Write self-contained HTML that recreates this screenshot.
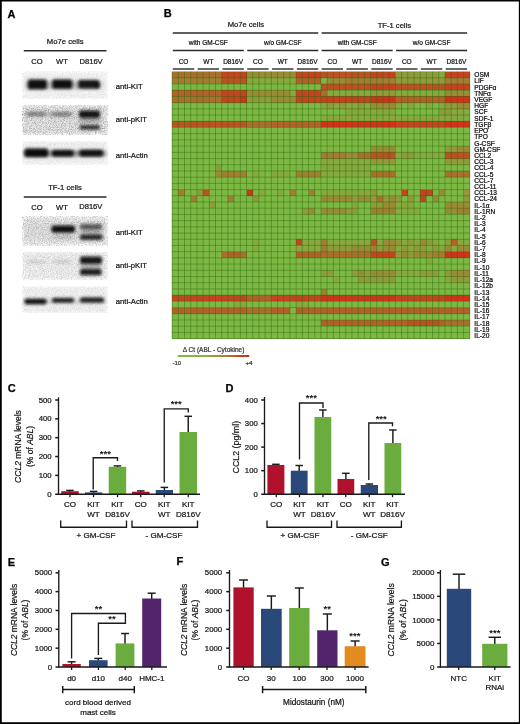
<!DOCTYPE html>
<html><head><meta charset="utf-8"><title>Figure</title>
<style>
html,body{margin:0;padding:0;background:#fff;}
body{width:520px;height:724px;overflow:hidden;font-family:"Liberation Sans", sans-serif;}
svg{display:block;opacity:0.999;}
</style></head><body>
<svg width="520" height="724" viewBox="0 0 520 724" font-family='"Liberation Sans", sans-serif'>
<rect x="0.00" y="0.00" width="520.00" height="724.00" fill="#ffffff" />
<defs>
<filter id="b1" x="-30%" y="-80%" width="160%" height="260%"><feGaussianBlur stdDeviation="1.7 1.35"/></filter>
<filter id="b2" x="-30%" y="-80%" width="160%" height="260%"><feGaussianBlur stdDeviation="2.4 1.8"/></filter>
<filter id="b3" x="-30%" y="-80%" width="160%" height="260%"><feGaussianBlur stdDeviation="1.4 1.0"/></filter>
<filter id="edge" x="-10%" y="-20%" width="120%" height="140%"><feGaussianBlur stdDeviation="1.0"/></filter>
<filter id="noise" x="0" y="0" width="100%" height="100%"><feTurbulence type="fractalNoise" baseFrequency="0.85" numOctaves="2" seed="3"/><feColorMatrix type="matrix" values="0 0 0 0 0  0 0 0 0 0  0 0 0 0 0  1.6 0 0 0 -0.62"/><feGaussianBlur stdDeviation="0.35"/></filter>
</defs>
<text x="7.40" y="17.50" font-size="11" text-anchor="start" font-weight="bold" fill="#000"  stroke="#000" stroke-width="0.25">A</text>
<text x="65.20" y="44.10" font-size="7.7" text-anchor="middle" font-weight="normal" fill="#141414" stroke="#141414" stroke-width="0.22" >Mo7e cells</text>
<line x1="23.80" y1="50.80" x2="106.50" y2="50.80" stroke="#2a2a2a" stroke-width="1.4" />
<text x="37.00" y="63.90" font-size="7.6" text-anchor="middle" font-weight="normal" fill="#141414" stroke="#141414" stroke-width="0.22" >CO</text>
<text x="62.00" y="63.90" font-size="7.6" text-anchor="middle" font-weight="normal" fill="#141414" stroke="#141414" stroke-width="0.22" >WT</text>
<text x="91.10" y="63.90" font-size="7.6" text-anchor="middle" font-weight="normal" fill="#141414" stroke="#141414" stroke-width="0.22" >D816V</text>
<g>
<rect x="23.50" y="72.60" width="83.00" height="25.40" fill="#000" fill-opacity="0.045" filter="url(#edge)"/>
<clipPath id="cp1"><rect x="21.7" y="70.8" width="86.6" height="29"/></clipPath>
<g clip-path="url(#cp1)">
<rect x="27.80" y="79.60" width="19.00" height="9.60" rx="2.0" fill="#0a0a0a" fill-opacity="0.97" filter="url(#b1)"/>
<rect x="52.20" y="79.40" width="20.00" height="9.40" rx="2.0" fill="#0a0a0a" fill-opacity="0.97" filter="url(#b1)"/>
<rect x="78.20" y="80.00" width="21.00" height="8.60" rx="2.0" fill="#0a0a0a" fill-opacity="0.93" filter="url(#b1)"/>
<rect x="96.00" y="82.00" width="3.50" height="6.50" rx="2.0" fill="#0a0a0a" fill-opacity="0.5" filter="url(#b3)"/>
<rect x="26.00" y="81.00" width="76.00" height="8.00" rx="2.0" fill="#0a0a0a" fill-opacity="0.22" filter="url(#b2)"/>
<rect x="22.7" y="71.8" width="84.6" height="27" filter="url(#noise)" opacity="0.13"/>
</g></g>
<g>
<rect x="23.50" y="106.30" width="83.00" height="27.40" fill="#000" fill-opacity="0.09" filter="url(#edge)"/>
<clipPath id="cp2"><rect x="21.7" y="104.5" width="86.6" height="31"/></clipPath>
<g clip-path="url(#cp2)">
<rect x="26.00" y="111.60" width="21.00" height="5.00" rx="2.0" fill="#0a0a0a" fill-opacity="0.4" filter="url(#b2)"/>
<rect x="51.00" y="111.80" width="21.00" height="5.00" rx="2.0" fill="#0a0a0a" fill-opacity="0.4" filter="url(#b2)"/>
<rect x="79.00" y="110.60" width="21.00" height="7.40" rx="2.0" fill="#0a0a0a" fill-opacity="0.95" filter="url(#b1)"/>
<rect x="79.50" y="125.00" width="20.50" height="4.60" rx="2.0" fill="#0a0a0a" fill-opacity="0.85" filter="url(#b1)"/>
<rect x="79.00" y="117.50" width="21.00" height="5.00" rx="2.0" fill="#0a0a0a" fill-opacity="0.25" filter="url(#b2)"/>
<rect x="22.7" y="105.5" width="84.6" height="29" filter="url(#noise)" opacity="0.42"/>
</g></g>
<g>
<rect x="23.50" y="142.00" width="83.00" height="21.60" fill="#000" fill-opacity="0.05" filter="url(#edge)"/>
<clipPath id="cp3"><rect x="21.7" y="140.2" width="86.6" height="25.2"/></clipPath>
<g clip-path="url(#cp3)">
<rect x="24.50" y="148.40" width="23.50" height="8.60" rx="2.0" fill="#0a0a0a" fill-opacity="0.97" filter="url(#b1)"/>
<rect x="52.00" y="150.00" width="21.50" height="6.60" rx="2.0" fill="#0a0a0a" fill-opacity="0.94" filter="url(#b1)"/>
<rect x="79.50" y="149.80" width="23.50" height="6.60" rx="2.0" fill="#0a0a0a" fill-opacity="0.94" filter="url(#b1)"/>
<rect x="24.00" y="150.50" width="82.00" height="6.00" rx="2.0" fill="#0a0a0a" fill-opacity="0.4" filter="url(#b2)"/>
<rect x="22.7" y="141.2" width="84.6" height="23.2" filter="url(#noise)" opacity="0.13"/>
</g></g>
<text x="115.80" y="88.60" font-size="7.7" text-anchor="start" font-weight="normal" fill="#141414" stroke="#141414" stroke-width="0.22" >anti-KIT</text>
<text x="115.80" y="121.80" font-size="7.7" text-anchor="start" font-weight="normal" fill="#141414" stroke="#141414" stroke-width="0.22" >anti-pKIT</text>
<text x="115.80" y="157.60" font-size="7.7" text-anchor="start" font-weight="normal" fill="#141414" stroke="#141414" stroke-width="0.22" >anti-Actin</text>
<text x="65.00" y="189.90" font-size="7.7" text-anchor="middle" font-weight="normal" fill="#141414" stroke="#141414" stroke-width="0.22" >TF-1 cells</text>
<line x1="23.80" y1="197.00" x2="106.50" y2="197.00" stroke="#2a2a2a" stroke-width="1.4" />
<text x="37.00" y="209.80" font-size="7.6" text-anchor="middle" font-weight="normal" fill="#141414" stroke="#141414" stroke-width="0.22" >CO</text>
<text x="62.00" y="210.30" font-size="7.6" text-anchor="middle" font-weight="normal" fill="#141414" stroke="#141414" stroke-width="0.22" >WT</text>
<text x="90.80" y="208.60" font-size="7.6" text-anchor="middle" font-weight="normal" fill="#141414" stroke="#141414" stroke-width="0.22" >D816V</text>
<g>
<rect x="23.50" y="217.60" width="83.00" height="26.80" fill="#000" fill-opacity="0.07" filter="url(#edge)"/>
<clipPath id="cp4"><rect x="21.7" y="215.8" width="86.6" height="30.4"/></clipPath>
<g clip-path="url(#cp4)">
<rect x="51.50" y="225.40" width="23.50" height="7.40" rx="2.0" fill="#0a0a0a" fill-opacity="0.98" filter="url(#b1)"/>
<rect x="80.00" y="224.20" width="22.00" height="5.00" rx="2.0" fill="#0a0a0a" fill-opacity="0.68" filter="url(#b1)"/>
<rect x="80.00" y="234.60" width="22.50" height="5.20" rx="2.0" fill="#0a0a0a" fill-opacity="0.9" filter="url(#b1)"/>
<rect x="81.00" y="229.50" width="20.00" height="4.00" rx="2.0" fill="#0a0a0a" fill-opacity="0.25" filter="url(#b2)"/>
<rect x="55.00" y="235.50" width="17.00" height="3.00" rx="1.5" fill="#0a0a0a" fill-opacity="0.16" filter="url(#b2)"/>
<rect x="25.00" y="222.00" width="80.00" height="18.00" rx="2.0" fill="#0a0a0a" fill-opacity="0.04" filter="url(#b2)"/>
<rect x="22.7" y="216.8" width="84.6" height="28.4" filter="url(#noise)" opacity="0.34"/>
</g></g>
<g>
<rect x="23.50" y="252.80" width="83.00" height="26.00" fill="#000" fill-opacity="0.05" filter="url(#edge)"/>
<clipPath id="cp5"><rect x="21.7" y="251" width="86.6" height="29.6"/></clipPath>
<g clip-path="url(#cp5)">
<rect x="27.00" y="259.80" width="19.00" height="4.00" rx="2.0" fill="#0a0a0a" fill-opacity="0.1" filter="url(#b2)"/>
<rect x="53.00" y="259.80" width="17.00" height="4.00" rx="2.0" fill="#0a0a0a" fill-opacity="0.12" filter="url(#b2)"/>
<rect x="80.00" y="256.60" width="22.00" height="7.40" rx="2.0" fill="#0a0a0a" fill-opacity="0.95" filter="url(#b1)"/>
<rect x="80.00" y="268.80" width="21.50" height="6.40" rx="2.0" fill="#0a0a0a" fill-opacity="0.93" filter="url(#b1)"/>
<rect x="80.00" y="263.50" width="21.00" height="5.00" rx="2.0" fill="#0a0a0a" fill-opacity="0.22" filter="url(#b2)"/>
<rect x="22.7" y="252" width="84.6" height="27.6" filter="url(#noise)" opacity="0.24"/>
</g></g>
<g>
<rect x="23.50" y="287.60" width="83.00" height="24.40" fill="#000" fill-opacity="0.05" filter="url(#edge)"/>
<clipPath id="cp6"><rect x="21.7" y="285.8" width="86.6" height="28"/></clipPath>
<g clip-path="url(#cp6)">
<rect x="24.50" y="298.80" width="22.00" height="5.40" rx="2.0" fill="#0a0a0a" fill-opacity="0.97" filter="url(#b1)"/>
<rect x="52.00" y="298.00" width="22.00" height="4.60" rx="2.0" fill="#0a0a0a" fill-opacity="0.95" filter="url(#b1)"/>
<rect x="80.00" y="297.60" width="24.00" height="4.80" rx="2.0" fill="#0a0a0a" fill-opacity="0.93" filter="url(#b1)"/>
<rect x="24.00" y="299.50" width="82.00" height="4.00" rx="2.0" fill="#0a0a0a" fill-opacity="0.12" filter="url(#b2)"/>
<rect x="22.7" y="286.8" width="84.6" height="26" filter="url(#noise)" opacity="0.15"/>
</g></g>
<text x="115.80" y="234.80" font-size="7.7" text-anchor="start" font-weight="normal" fill="#141414" stroke="#141414" stroke-width="0.22" >anti-KIT</text>
<text x="115.80" y="268.20" font-size="7.7" text-anchor="start" font-weight="normal" fill="#141414" stroke="#141414" stroke-width="0.22" >anti-pKIT</text>
<text x="115.80" y="304.20" font-size="7.7" text-anchor="start" font-weight="normal" fill="#141414" stroke="#141414" stroke-width="0.22" >anti-Actin</text>
<text x="163.70" y="16.60" font-size="11" text-anchor="start" font-weight="bold" fill="#000"  stroke="#000" stroke-width="0.25">B</text>
<text x="245.83" y="26.80" font-size="7.6" text-anchor="middle" font-weight="normal" fill="#141414" stroke="#141414" stroke-width="0.22" >Mo7e cells</text>
<text x="394.38" y="27.90" font-size="7.6" text-anchor="middle" font-weight="normal" fill="#141414" stroke="#141414" stroke-width="0.22" >TF-1 cells</text>
<line x1="172.80" y1="33.00" x2="318.25" y2="33.00" stroke="#2a2a2a" stroke-width="1.4" />
<line x1="321.65" y1="33.00" x2="467.10" y2="33.00" stroke="#2a2a2a" stroke-width="1.4" />
<text x="208.31" y="45.00" font-size="6.5" text-anchor="middle" font-weight="normal" fill="#141414" stroke="#141414" stroke-width="0.22" >with GM-CSF</text>
<line x1="172.80" y1="50.50" x2="243.83" y2="50.50" stroke="#2a2a2a" stroke-width="1.4" />
<text x="282.74" y="45.00" font-size="6.5" text-anchor="middle" font-weight="normal" fill="#141414" stroke="#141414" stroke-width="0.22" >w/o GM-CSF</text>
<line x1="247.22" y1="50.50" x2="318.25" y2="50.50" stroke="#2a2a2a" stroke-width="1.4" />
<text x="357.16" y="45.00" font-size="6.5" text-anchor="middle" font-weight="normal" fill="#141414" stroke="#141414" stroke-width="0.22" >with GM-CSF</text>
<line x1="321.65" y1="50.50" x2="392.68" y2="50.50" stroke="#2a2a2a" stroke-width="1.4" />
<text x="431.59" y="45.00" font-size="6.5" text-anchor="middle" font-weight="normal" fill="#141414" stroke="#141414" stroke-width="0.22" >w/o GM-CSF</text>
<line x1="396.07" y1="50.50" x2="467.10" y2="50.50" stroke="#2a2a2a" stroke-width="1.4" />
<text x="183.50" y="64.00" font-size="6.5" text-anchor="middle" font-weight="normal" fill="#141414" stroke="#141414" stroke-width="0.22" >CO</text>
<line x1="172.80" y1="69.00" x2="194.21" y2="69.00" stroke="#2a2a2a" stroke-width="1.4" />
<text x="208.31" y="64.00" font-size="6.5" text-anchor="middle" font-weight="normal" fill="#141414" stroke="#141414" stroke-width="0.22" >WT</text>
<line x1="197.61" y1="69.00" x2="219.02" y2="69.00" stroke="#2a2a2a" stroke-width="1.4" />
<text x="233.12" y="64.00" font-size="6.5" text-anchor="middle" font-weight="normal" fill="#141414" stroke="#141414" stroke-width="0.22" >D816V</text>
<line x1="222.42" y1="69.00" x2="243.83" y2="69.00" stroke="#2a2a2a" stroke-width="1.4" />
<text x="257.93" y="64.00" font-size="6.5" text-anchor="middle" font-weight="normal" fill="#141414" stroke="#141414" stroke-width="0.22" >CO</text>
<line x1="247.22" y1="69.00" x2="268.63" y2="69.00" stroke="#2a2a2a" stroke-width="1.4" />
<text x="282.74" y="64.00" font-size="6.5" text-anchor="middle" font-weight="normal" fill="#141414" stroke="#141414" stroke-width="0.22" >WT</text>
<line x1="272.03" y1="69.00" x2="293.44" y2="69.00" stroke="#2a2a2a" stroke-width="1.4" />
<text x="307.55" y="64.00" font-size="6.5" text-anchor="middle" font-weight="normal" fill="#141414" stroke="#141414" stroke-width="0.22" >D816V</text>
<line x1="296.84" y1="69.00" x2="318.25" y2="69.00" stroke="#2a2a2a" stroke-width="1.4" />
<text x="332.35" y="64.00" font-size="6.5" text-anchor="middle" font-weight="normal" fill="#141414" stroke="#141414" stroke-width="0.22" >CO</text>
<line x1="321.65" y1="69.00" x2="343.06" y2="69.00" stroke="#2a2a2a" stroke-width="1.4" />
<text x="357.16" y="64.00" font-size="6.5" text-anchor="middle" font-weight="normal" fill="#141414" stroke="#141414" stroke-width="0.22" >WT</text>
<line x1="346.46" y1="69.00" x2="367.87" y2="69.00" stroke="#2a2a2a" stroke-width="1.4" />
<text x="381.97" y="64.00" font-size="6.5" text-anchor="middle" font-weight="normal" fill="#141414" stroke="#141414" stroke-width="0.22" >D816V</text>
<line x1="371.27" y1="69.00" x2="392.68" y2="69.00" stroke="#2a2a2a" stroke-width="1.4" />
<text x="406.78" y="64.00" font-size="6.5" text-anchor="middle" font-weight="normal" fill="#141414" stroke="#141414" stroke-width="0.22" >CO</text>
<line x1="396.07" y1="69.00" x2="417.48" y2="69.00" stroke="#2a2a2a" stroke-width="1.4" />
<text x="431.59" y="64.00" font-size="6.5" text-anchor="middle" font-weight="normal" fill="#141414" stroke="#141414" stroke-width="0.22" >WT</text>
<line x1="420.88" y1="69.00" x2="442.29" y2="69.00" stroke="#2a2a2a" stroke-width="1.4" />
<text x="456.40" y="64.00" font-size="6.5" text-anchor="middle" font-weight="normal" fill="#141414" stroke="#141414" stroke-width="0.22" >D816V</text>
<line x1="445.69" y1="69.00" x2="467.10" y2="69.00" stroke="#2a2a2a" stroke-width="1.4" />
<g shape-rendering="crispEdges">
<rect x="172.10" y="71.60" width="297.70" height="267.00" fill="#7eb844" />
<rect x="172.10" y="71.60" width="49.62" height="6.21" fill="#aa6f2d" />
<rect x="221.72" y="71.60" width="24.81" height="6.21" fill="#c54320" />
<rect x="246.53" y="71.60" width="49.62" height="6.21" fill="#998c36" />
<rect x="296.14" y="71.60" width="24.81" height="6.21" fill="#c54320" />
<rect x="320.95" y="71.60" width="49.62" height="6.21" fill="#bc5124" />
<rect x="370.57" y="71.60" width="24.81" height="6.21" fill="#c54320" />
<rect x="395.38" y="71.60" width="43.41" height="6.21" fill="#909b3b" />
<rect x="438.79" y="71.60" width="6.20" height="6.21" fill="#87a93f" />
<rect x="444.99" y="71.60" width="24.81" height="6.21" fill="#c54320" />
<rect x="172.10" y="77.81" width="49.62" height="6.21" fill="#a27d32" />
<rect x="221.72" y="77.81" width="24.81" height="6.21" fill="#bc5124" />
<rect x="246.53" y="77.81" width="49.62" height="6.21" fill="#87a93f" />
<rect x="296.14" y="77.81" width="24.81" height="6.21" fill="#b36029" />
<rect x="327.15" y="77.81" width="18.61" height="6.21" fill="#998c36" />
<rect x="345.76" y="77.81" width="49.62" height="6.21" fill="#a27d32" />
<rect x="395.38" y="77.81" width="49.62" height="6.21" fill="#909b3b" />
<rect x="444.99" y="77.81" width="24.81" height="6.21" fill="#a27d32" />
<rect x="320.95" y="84.02" width="49.62" height="6.21" fill="#bc5124" />
<rect x="370.57" y="84.02" width="24.81" height="6.21" fill="#c54320" />
<rect x="395.38" y="84.02" width="49.62" height="6.21" fill="#bc5124" />
<rect x="444.99" y="84.02" width="24.81" height="6.21" fill="#c54320" />
<rect x="172.10" y="90.23" width="49.62" height="6.21" fill="#b36029" />
<rect x="221.72" y="90.23" width="24.81" height="6.21" fill="#c54320" />
<rect x="246.53" y="90.23" width="43.41" height="6.21" fill="#998c36" />
<rect x="289.94" y="90.23" width="6.20" height="6.21" fill="#87a93f" />
<rect x="296.14" y="90.23" width="24.81" height="6.21" fill="#c54320" />
<rect x="320.95" y="90.23" width="6.20" height="6.21" fill="#aa6f2d" />
<rect x="327.15" y="90.23" width="43.41" height="6.21" fill="#87a93f" />
<rect x="370.57" y="90.23" width="24.81" height="6.21" fill="#909b3b" />
<rect x="395.38" y="90.23" width="49.62" height="6.21" fill="#87a93f" />
<rect x="444.99" y="90.23" width="24.81" height="6.21" fill="#998c36" />
<rect x="172.10" y="96.44" width="49.62" height="6.21" fill="#aa6f2d" />
<rect x="221.72" y="96.44" width="18.61" height="6.21" fill="#c54320" />
<rect x="240.32" y="96.44" width="6.20" height="6.21" fill="#ce341b" />
<rect x="246.53" y="96.44" width="24.81" height="6.21" fill="#909b3b" />
<rect x="271.33" y="96.44" width="24.81" height="6.21" fill="#998c36" />
<rect x="296.14" y="96.44" width="74.43" height="6.21" fill="#c54320" />
<rect x="370.57" y="96.44" width="24.81" height="6.21" fill="#ce341b" />
<rect x="395.38" y="96.44" width="49.62" height="6.21" fill="#b36029" />
<rect x="444.99" y="96.44" width="24.81" height="6.21" fill="#ce341b" />
<rect x="320.95" y="102.65" width="6.20" height="6.21" fill="#87a93f" />
<rect x="327.15" y="102.65" width="6.20" height="6.21" fill="#909b3b" />
<rect x="333.35" y="102.65" width="6.20" height="6.21" fill="#87a93f" />
<rect x="339.56" y="102.65" width="6.20" height="6.21" fill="#909b3b" />
<rect x="345.76" y="102.65" width="12.40" height="6.21" fill="#87a93f" />
<rect x="358.16" y="102.65" width="6.20" height="6.21" fill="#909b3b" />
<rect x="364.36" y="102.65" width="6.20" height="6.21" fill="#87a93f" />
<rect x="370.57" y="102.65" width="24.81" height="6.21" fill="#998c36" />
<rect x="395.38" y="102.65" width="6.20" height="6.21" fill="#87a93f" />
<rect x="407.78" y="102.65" width="6.20" height="6.21" fill="#87a93f" />
<rect x="426.39" y="102.65" width="6.20" height="6.21" fill="#87a93f" />
<rect x="438.79" y="102.65" width="6.20" height="6.21" fill="#87a93f" />
<rect x="444.99" y="102.65" width="12.40" height="6.21" fill="#909b3b" />
<rect x="457.40" y="102.65" width="12.40" height="6.21" fill="#998c36" />
<rect x="345.76" y="108.86" width="49.62" height="6.21" fill="#87a93f" />
<rect x="438.79" y="108.86" width="12.40" height="6.21" fill="#909b3b" />
<rect x="451.19" y="108.86" width="18.61" height="6.21" fill="#87a93f" />
<rect x="320.95" y="115.07" width="148.85" height="6.21" fill="#87a93f" />
<rect x="172.10" y="121.27" width="74.43" height="6.21" fill="#bc5124" />
<rect x="246.53" y="121.27" width="24.81" height="6.21" fill="#aa6f2d" />
<rect x="271.33" y="121.27" width="49.62" height="6.21" fill="#b36029" />
<rect x="320.95" y="121.27" width="74.43" height="6.21" fill="#ce341b" />
<rect x="395.38" y="121.27" width="49.62" height="6.21" fill="#c54320" />
<rect x="444.99" y="121.27" width="24.81" height="6.21" fill="#ce341b" />
<rect x="370.57" y="146.11" width="24.81" height="6.21" fill="#998c36" />
<rect x="444.99" y="146.11" width="12.40" height="6.21" fill="#909b3b" />
<rect x="457.40" y="146.11" width="12.40" height="6.21" fill="#998c36" />
<rect x="320.95" y="152.32" width="24.81" height="6.21" fill="#a27d32" />
<rect x="345.76" y="152.32" width="12.40" height="6.21" fill="#998c36" />
<rect x="358.16" y="152.32" width="12.40" height="6.21" fill="#aa6f2d" />
<rect x="370.57" y="152.32" width="24.81" height="6.21" fill="#bc5124" />
<rect x="395.38" y="152.32" width="6.20" height="6.21" fill="#87a93f" />
<rect x="401.58" y="152.32" width="12.40" height="6.21" fill="#909b3b" />
<rect x="413.98" y="152.32" width="31.01" height="6.21" fill="#87a93f" />
<rect x="444.99" y="152.32" width="24.81" height="6.21" fill="#bc5124" />
<rect x="320.95" y="158.53" width="49.62" height="6.21" fill="#87a93f" />
<rect x="370.57" y="158.53" width="24.81" height="6.21" fill="#909b3b" />
<rect x="444.99" y="158.53" width="24.81" height="6.21" fill="#909b3b" />
<rect x="215.51" y="164.74" width="6.20" height="6.21" fill="#909b3b" />
<rect x="320.95" y="164.74" width="49.62" height="6.21" fill="#87a93f" />
<rect x="215.51" y="170.95" width="6.20" height="6.21" fill="#998c36" />
<rect x="221.72" y="170.95" width="24.81" height="6.21" fill="#a27d32" />
<rect x="252.73" y="170.95" width="6.20" height="6.21" fill="#87a93f" />
<rect x="271.33" y="170.95" width="18.61" height="6.21" fill="#87a93f" />
<rect x="296.14" y="170.95" width="24.81" height="6.21" fill="#a27d32" />
<rect x="320.95" y="170.95" width="49.62" height="6.21" fill="#87a93f" />
<rect x="370.57" y="170.95" width="24.81" height="6.21" fill="#aa6f2d" />
<rect x="444.99" y="170.95" width="24.81" height="6.21" fill="#aa6f2d" />
<rect x="178.30" y="189.58" width="6.20" height="6.21" fill="#a27d32" />
<rect x="196.91" y="189.58" width="6.20" height="6.21" fill="#909b3b" />
<rect x="203.11" y="189.58" width="6.20" height="6.21" fill="#bc5124" />
<rect x="246.53" y="189.58" width="6.20" height="6.21" fill="#ce341b" />
<rect x="258.93" y="189.58" width="6.20" height="6.21" fill="#87a93f" />
<rect x="277.54" y="189.58" width="6.20" height="6.21" fill="#87a93f" />
<rect x="289.94" y="189.58" width="6.20" height="6.21" fill="#a27d32" />
<rect x="308.55" y="189.58" width="6.20" height="6.21" fill="#a27d32" />
<rect x="320.95" y="189.58" width="49.62" height="6.21" fill="#87a93f" />
<rect x="370.57" y="189.58" width="6.20" height="6.21" fill="#909b3b" />
<rect x="401.58" y="189.58" width="6.20" height="6.21" fill="#c54320" />
<rect x="420.18" y="189.58" width="12.40" height="6.21" fill="#c54320" />
<rect x="438.79" y="189.58" width="6.20" height="6.21" fill="#998c36" />
<rect x="463.60" y="189.58" width="6.20" height="6.21" fill="#909b3b" />
<rect x="190.71" y="195.79" width="6.20" height="6.21" fill="#a27d32" />
<rect x="227.92" y="195.79" width="6.20" height="6.21" fill="#a27d32" />
<rect x="252.73" y="195.79" width="6.20" height="6.21" fill="#909b3b" />
<rect x="320.95" y="195.79" width="31.01" height="6.21" fill="#998c36" />
<rect x="351.96" y="195.79" width="6.20" height="6.21" fill="#909b3b" />
<rect x="358.16" y="195.79" width="12.40" height="6.21" fill="#998c36" />
<rect x="370.57" y="195.79" width="6.20" height="6.21" fill="#909b3b" />
<rect x="376.77" y="195.79" width="6.20" height="6.21" fill="#aa6f2d" />
<rect x="382.97" y="195.79" width="6.20" height="6.21" fill="#909b3b" />
<rect x="389.17" y="195.79" width="6.20" height="6.21" fill="#998c36" />
<rect x="395.38" y="195.79" width="6.20" height="6.21" fill="#909b3b" />
<rect x="407.78" y="195.79" width="6.20" height="6.21" fill="#909b3b" />
<rect x="420.18" y="195.79" width="6.20" height="6.21" fill="#c54320" />
<rect x="432.59" y="195.79" width="6.20" height="6.21" fill="#998c36" />
<rect x="463.60" y="195.79" width="6.20" height="6.21" fill="#909b3b" />
<rect x="209.31" y="202.00" width="6.20" height="6.21" fill="#909b3b" />
<rect x="351.96" y="202.00" width="6.20" height="6.21" fill="#87a93f" />
<rect x="370.57" y="202.00" width="12.40" height="6.21" fill="#909b3b" />
<rect x="382.97" y="202.00" width="12.40" height="6.21" fill="#998c36" />
<rect x="395.38" y="202.00" width="18.61" height="6.21" fill="#87a93f" />
<rect x="444.99" y="202.00" width="24.81" height="6.21" fill="#998c36" />
<rect x="302.34" y="208.20" width="6.20" height="6.21" fill="#909b3b" />
<rect x="308.55" y="208.20" width="6.20" height="6.21" fill="#998c36" />
<rect x="320.95" y="208.20" width="24.81" height="6.21" fill="#998c36" />
<rect x="345.76" y="208.20" width="12.40" height="6.21" fill="#909b3b" />
<rect x="370.57" y="208.20" width="24.81" height="6.21" fill="#a27d32" />
<rect x="395.38" y="208.20" width="24.81" height="6.21" fill="#87a93f" />
<rect x="444.99" y="208.20" width="12.40" height="6.21" fill="#998c36" />
<rect x="457.40" y="208.20" width="12.40" height="6.21" fill="#a27d32" />
<rect x="252.73" y="239.25" width="6.20" height="6.21" fill="#87a93f" />
<rect x="296.14" y="239.25" width="6.20" height="6.21" fill="#c54320" />
<rect x="302.34" y="239.25" width="18.61" height="6.21" fill="#87a93f" />
<rect x="320.95" y="239.25" width="6.20" height="6.21" fill="#a27d32" />
<rect x="327.15" y="239.25" width="43.41" height="6.21" fill="#87a93f" />
<rect x="370.57" y="239.25" width="6.20" height="6.21" fill="#bc5124" />
<rect x="376.77" y="239.25" width="6.20" height="6.21" fill="#87a93f" />
<rect x="382.97" y="239.25" width="12.40" height="6.21" fill="#998c36" />
<rect x="395.38" y="239.25" width="6.20" height="6.21" fill="#909b3b" />
<rect x="401.58" y="239.25" width="6.20" height="6.21" fill="#87a93f" />
<rect x="407.78" y="239.25" width="6.20" height="6.21" fill="#909b3b" />
<rect x="413.98" y="239.25" width="6.20" height="6.21" fill="#87a93f" />
<rect x="420.18" y="239.25" width="6.20" height="6.21" fill="#998c36" />
<rect x="426.39" y="239.25" width="6.20" height="6.21" fill="#909b3b" />
<rect x="432.59" y="239.25" width="6.20" height="6.21" fill="#87a93f" />
<rect x="444.99" y="239.25" width="6.20" height="6.21" fill="#909b3b" />
<rect x="451.19" y="239.25" width="6.20" height="6.21" fill="#b36029" />
<rect x="457.40" y="239.25" width="12.40" height="6.21" fill="#87a93f" />
<rect x="252.73" y="245.46" width="6.20" height="6.21" fill="#87a93f" />
<rect x="296.14" y="245.46" width="24.81" height="6.21" fill="#87a93f" />
<rect x="320.95" y="245.46" width="6.20" height="6.21" fill="#a27d32" />
<rect x="327.15" y="245.46" width="24.81" height="6.21" fill="#909b3b" />
<rect x="351.96" y="245.46" width="18.61" height="6.21" fill="#998c36" />
<rect x="370.57" y="245.46" width="6.20" height="6.21" fill="#a27d32" />
<rect x="376.77" y="245.46" width="6.20" height="6.21" fill="#909b3b" />
<rect x="382.97" y="245.46" width="12.40" height="6.21" fill="#998c36" />
<rect x="395.38" y="245.46" width="6.20" height="6.21" fill="#87a93f" />
<rect x="401.58" y="245.46" width="6.20" height="6.21" fill="#909b3b" />
<rect x="407.78" y="245.46" width="6.20" height="6.21" fill="#87a93f" />
<rect x="413.98" y="245.46" width="12.40" height="6.21" fill="#909b3b" />
<rect x="426.39" y="245.46" width="6.20" height="6.21" fill="#87a93f" />
<rect x="432.59" y="245.46" width="6.20" height="6.21" fill="#909b3b" />
<rect x="438.79" y="245.46" width="6.20" height="6.21" fill="#87a93f" />
<rect x="444.99" y="245.46" width="6.20" height="6.21" fill="#998c36" />
<rect x="451.19" y="245.46" width="6.20" height="6.21" fill="#87a93f" />
<rect x="457.40" y="245.46" width="12.40" height="6.21" fill="#998c36" />
<rect x="221.72" y="251.67" width="6.20" height="6.21" fill="#aa6f2d" />
<rect x="227.92" y="251.67" width="12.40" height="6.21" fill="#b36029" />
<rect x="240.32" y="251.67" width="6.20" height="6.21" fill="#aa6f2d" />
<rect x="296.14" y="251.67" width="24.81" height="6.21" fill="#b36029" />
<rect x="320.95" y="251.67" width="49.62" height="6.21" fill="#aa6f2d" />
<rect x="370.57" y="251.67" width="24.81" height="6.21" fill="#c54320" />
<rect x="395.38" y="251.67" width="6.20" height="6.21" fill="#909b3b" />
<rect x="401.58" y="251.67" width="6.20" height="6.21" fill="#998c36" />
<rect x="407.78" y="251.67" width="6.20" height="6.21" fill="#909b3b" />
<rect x="413.98" y="251.67" width="18.61" height="6.21" fill="#998c36" />
<rect x="432.59" y="251.67" width="12.40" height="6.21" fill="#a27d32" />
<rect x="444.99" y="251.67" width="24.81" height="6.21" fill="#ce341b" />
<rect x="426.39" y="257.88" width="6.20" height="6.21" fill="#87a93f" />
<rect x="320.95" y="270.30" width="12.40" height="6.21" fill="#909b3b" />
<rect x="351.96" y="270.30" width="6.20" height="6.21" fill="#909b3b" />
<rect x="358.16" y="270.30" width="6.20" height="6.21" fill="#998c36" />
<rect x="364.36" y="270.30" width="6.20" height="6.21" fill="#909b3b" />
<rect x="370.57" y="270.30" width="24.81" height="6.21" fill="#998c36" />
<rect x="395.38" y="270.30" width="24.81" height="6.21" fill="#87a93f" />
<rect x="420.18" y="270.30" width="18.61" height="6.21" fill="#909b3b" />
<rect x="444.99" y="270.30" width="6.20" height="6.21" fill="#909b3b" />
<rect x="451.19" y="270.30" width="18.61" height="6.21" fill="#998c36" />
<rect x="333.35" y="276.51" width="6.20" height="6.21" fill="#87a93f" />
<rect x="358.16" y="276.51" width="37.21" height="6.21" fill="#909b3b" />
<rect x="444.99" y="276.51" width="6.20" height="6.21" fill="#87a93f" />
<rect x="451.19" y="276.51" width="18.61" height="6.21" fill="#909b3b" />
<rect x="320.95" y="288.93" width="6.20" height="6.21" fill="#a27d32" />
<rect x="172.10" y="295.13" width="74.43" height="6.21" fill="#c54320" />
<rect x="246.53" y="295.13" width="24.81" height="6.21" fill="#b36029" />
<rect x="271.33" y="295.13" width="49.62" height="6.21" fill="#c54320" />
<rect x="320.95" y="295.13" width="74.43" height="6.21" fill="#ce341b" />
<rect x="395.38" y="295.13" width="49.62" height="6.21" fill="#c54320" />
<rect x="444.99" y="295.13" width="24.81" height="6.21" fill="#ce341b" />
<rect x="234.12" y="301.34" width="12.40" height="6.21" fill="#87a93f" />
<rect x="296.14" y="301.34" width="12.40" height="6.21" fill="#87a93f" />
<rect x="172.10" y="307.55" width="74.43" height="6.21" fill="#b36029" />
<rect x="246.53" y="307.55" width="24.81" height="6.21" fill="#aa6f2d" />
<rect x="271.33" y="307.55" width="18.61" height="6.21" fill="#b36029" />
<rect x="296.14" y="307.55" width="173.66" height="6.21" fill="#b36029" />
<rect x="320.95" y="319.97" width="86.83" height="6.21" fill="#b36029" />
<rect x="407.78" y="319.97" width="31.01" height="6.21" fill="#bc5124" />
<rect x="438.79" y="319.97" width="6.20" height="6.21" fill="#b36029" />
<rect x="444.99" y="319.97" width="24.81" height="6.21" fill="#aa6f2d" />
</g>
<path d="M172.10 71.60V338.60M178.30 71.60V338.60M184.50 71.60V338.60M190.71 71.60V338.60M196.91 71.60V338.60M203.11 71.60V338.60M209.31 71.60V338.60M215.51 71.60V338.60M221.72 71.60V338.60M227.92 71.60V338.60M234.12 71.60V338.60M240.32 71.60V338.60M246.53 71.60V338.60M252.73 71.60V338.60M258.93 71.60V338.60M265.13 71.60V338.60M271.33 71.60V338.60M277.54 71.60V338.60M283.74 71.60V338.60M289.94 71.60V338.60M296.14 71.60V338.60M302.34 71.60V338.60M308.55 71.60V338.60M314.75 71.60V338.60M320.95 71.60V338.60M327.15 71.60V338.60M333.35 71.60V338.60M339.56 71.60V338.60M345.76 71.60V338.60M351.96 71.60V338.60M358.16 71.60V338.60M364.36 71.60V338.60M370.57 71.60V338.60M376.77 71.60V338.60M382.97 71.60V338.60M389.17 71.60V338.60M395.38 71.60V338.60M401.58 71.60V338.60M407.78 71.60V338.60M413.98 71.60V338.60M420.18 71.60V338.60M426.39 71.60V338.60M432.59 71.60V338.60M438.79 71.60V338.60M444.99 71.60V338.60M451.19 71.60V338.60M457.40 71.60V338.60M463.60 71.60V338.60M469.80 71.60V338.60M172.10 71.60H469.80M172.10 77.81H469.80M172.10 84.02H469.80M172.10 90.23H469.80M172.10 96.44H469.80M172.10 102.65H469.80M172.10 108.86H469.80M172.10 115.07H469.80M172.10 121.27H469.80M172.10 127.48H469.80M172.10 133.69H469.80M172.10 139.90H469.80M172.10 146.11H469.80M172.10 152.32H469.80M172.10 158.53H469.80M172.10 164.74H469.80M172.10 170.95H469.80M172.10 177.16H469.80M172.10 183.37H469.80M172.10 189.58H469.80M172.10 195.79H469.80M172.10 202.00H469.80M172.10 208.20H469.80M172.10 214.41H469.80M172.10 220.62H469.80M172.10 226.83H469.80M172.10 233.04H469.80M172.10 239.25H469.80M172.10 245.46H469.80M172.10 251.67H469.80M172.10 257.88H469.80M172.10 264.09H469.80M172.10 270.30H469.80M172.10 276.51H469.80M172.10 282.72H469.80M172.10 288.93H469.80M172.10 295.13H469.80M172.10 301.34H469.80M172.10 307.55H469.80M172.10 313.76H469.80M172.10 319.97H469.80M172.10 326.18H469.80M172.10 332.39H469.80M172.10 338.60H469.80" stroke="#2a6a0c" stroke-opacity="0.55" stroke-width="0.8" fill="none"/>
<text x="474.30" y="77.20" font-size="6.6" text-anchor="start" font-weight="normal" fill="#0a0a0a" stroke="#0a0a0a" stroke-width="0.22" >OSM</text>
<text x="474.30" y="83.41" font-size="6.6" text-anchor="start" font-weight="normal" fill="#0a0a0a" stroke="#0a0a0a" stroke-width="0.22" >LIF</text>
<text x="474.30" y="89.62" font-size="6.6" text-anchor="start" font-weight="normal" fill="#0a0a0a" stroke="#0a0a0a" stroke-width="0.22" >PDGF&#945;</text>
<text x="474.30" y="95.83" font-size="6.6" text-anchor="start" font-weight="normal" fill="#0a0a0a" stroke="#0a0a0a" stroke-width="0.22" >TNF&#945;</text>
<text x="474.30" y="102.04" font-size="6.6" text-anchor="start" font-weight="normal" fill="#0a0a0a" stroke="#0a0a0a" stroke-width="0.22" >VEGF</text>
<text x="474.30" y="108.25" font-size="6.6" text-anchor="start" font-weight="normal" fill="#0a0a0a" stroke="#0a0a0a" stroke-width="0.22" >HGF</text>
<text x="474.30" y="114.46" font-size="6.6" text-anchor="start" font-weight="normal" fill="#0a0a0a" stroke="#0a0a0a" stroke-width="0.22" >SCF</text>
<text x="474.30" y="120.67" font-size="6.6" text-anchor="start" font-weight="normal" fill="#0a0a0a" stroke="#0a0a0a" stroke-width="0.22" >SDF-1</text>
<text x="474.30" y="126.88" font-size="6.6" text-anchor="start" font-weight="normal" fill="#0a0a0a" stroke="#0a0a0a" stroke-width="0.22" >TGF&#946;</text>
<text x="474.30" y="133.09" font-size="6.6" text-anchor="start" font-weight="normal" fill="#0a0a0a" stroke="#0a0a0a" stroke-width="0.22" >EPO</text>
<text x="474.30" y="139.30" font-size="6.6" text-anchor="start" font-weight="normal" fill="#0a0a0a" stroke="#0a0a0a" stroke-width="0.22" >TPO</text>
<text x="474.30" y="145.51" font-size="6.6" text-anchor="start" font-weight="normal" fill="#0a0a0a" stroke="#0a0a0a" stroke-width="0.22" >G-CSF</text>
<text x="474.30" y="151.72" font-size="6.6" text-anchor="start" font-weight="normal" fill="#0a0a0a" stroke="#0a0a0a" stroke-width="0.22" >GM-CSF</text>
<text x="474.30" y="157.93" font-size="6.6" text-anchor="start" font-weight="normal" fill="#0a0a0a" stroke="#0a0a0a" stroke-width="0.22" >CCL2</text>
<text x="474.30" y="164.13" font-size="6.6" text-anchor="start" font-weight="normal" fill="#0a0a0a" stroke="#0a0a0a" stroke-width="0.22" >CCL-3</text>
<text x="474.30" y="170.34" font-size="6.6" text-anchor="start" font-weight="normal" fill="#0a0a0a" stroke="#0a0a0a" stroke-width="0.22" >CCL-4</text>
<text x="474.30" y="176.55" font-size="6.6" text-anchor="start" font-weight="normal" fill="#0a0a0a" stroke="#0a0a0a" stroke-width="0.22" >CCL-5</text>
<text x="474.30" y="182.76" font-size="6.6" text-anchor="start" font-weight="normal" fill="#0a0a0a" stroke="#0a0a0a" stroke-width="0.22" >CCL-7</text>
<text x="474.30" y="188.97" font-size="6.6" text-anchor="start" font-weight="normal" fill="#0a0a0a" stroke="#0a0a0a" stroke-width="0.22" >CCL-11</text>
<text x="474.30" y="195.18" font-size="6.6" text-anchor="start" font-weight="normal" fill="#0a0a0a" stroke="#0a0a0a" stroke-width="0.22" >CCL-13</text>
<text x="474.30" y="201.39" font-size="6.6" text-anchor="start" font-weight="normal" fill="#0a0a0a" stroke="#0a0a0a" stroke-width="0.22" >CCL-24</text>
<text x="474.30" y="207.60" font-size="6.6" text-anchor="start" font-weight="normal" fill="#0a0a0a" stroke="#0a0a0a" stroke-width="0.22" >IL-1&#945;</text>
<text x="474.30" y="213.81" font-size="6.6" text-anchor="start" font-weight="normal" fill="#0a0a0a" stroke="#0a0a0a" stroke-width="0.22" >IL-1RN</text>
<text x="474.30" y="220.02" font-size="6.6" text-anchor="start" font-weight="normal" fill="#0a0a0a" stroke="#0a0a0a" stroke-width="0.22" >IL-2</text>
<text x="474.30" y="226.23" font-size="6.6" text-anchor="start" font-weight="normal" fill="#0a0a0a" stroke="#0a0a0a" stroke-width="0.22" >IL-3</text>
<text x="474.30" y="232.44" font-size="6.6" text-anchor="start" font-weight="normal" fill="#0a0a0a" stroke="#0a0a0a" stroke-width="0.22" >IL-4</text>
<text x="474.30" y="238.65" font-size="6.6" text-anchor="start" font-weight="normal" fill="#0a0a0a" stroke="#0a0a0a" stroke-width="0.22" >IL-5</text>
<text x="474.30" y="244.86" font-size="6.6" text-anchor="start" font-weight="normal" fill="#0a0a0a" stroke="#0a0a0a" stroke-width="0.22" >IL-6</text>
<text x="474.30" y="251.07" font-size="6.6" text-anchor="start" font-weight="normal" fill="#0a0a0a" stroke="#0a0a0a" stroke-width="0.22" >IL-7</text>
<text x="474.30" y="257.27" font-size="6.6" text-anchor="start" font-weight="normal" fill="#0a0a0a" stroke="#0a0a0a" stroke-width="0.22" >IL-8</text>
<text x="474.30" y="263.48" font-size="6.6" text-anchor="start" font-weight="normal" fill="#0a0a0a" stroke="#0a0a0a" stroke-width="0.22" >IL-9</text>
<text x="474.30" y="269.69" font-size="6.6" text-anchor="start" font-weight="normal" fill="#0a0a0a" stroke="#0a0a0a" stroke-width="0.22" >IL-10</text>
<text x="474.30" y="275.90" font-size="6.6" text-anchor="start" font-weight="normal" fill="#0a0a0a" stroke="#0a0a0a" stroke-width="0.22" >IL-11</text>
<text x="474.30" y="282.11" font-size="6.6" text-anchor="start" font-weight="normal" fill="#0a0a0a" stroke="#0a0a0a" stroke-width="0.22" >IL-12a</text>
<text x="474.30" y="288.32" font-size="6.6" text-anchor="start" font-weight="normal" fill="#0a0a0a" stroke="#0a0a0a" stroke-width="0.22" >IL-12b</text>
<text x="474.30" y="294.53" font-size="6.6" text-anchor="start" font-weight="normal" fill="#0a0a0a" stroke="#0a0a0a" stroke-width="0.22" >IL-13</text>
<text x="474.30" y="300.74" font-size="6.6" text-anchor="start" font-weight="normal" fill="#0a0a0a" stroke="#0a0a0a" stroke-width="0.22" >IL-14</text>
<text x="474.30" y="306.95" font-size="6.6" text-anchor="start" font-weight="normal" fill="#0a0a0a" stroke="#0a0a0a" stroke-width="0.22" >IL-15</text>
<text x="474.30" y="313.16" font-size="6.6" text-anchor="start" font-weight="normal" fill="#0a0a0a" stroke="#0a0a0a" stroke-width="0.22" >IL-16</text>
<text x="474.30" y="319.37" font-size="6.6" text-anchor="start" font-weight="normal" fill="#0a0a0a" stroke="#0a0a0a" stroke-width="0.22" >IL-17</text>
<text x="474.30" y="325.58" font-size="6.6" text-anchor="start" font-weight="normal" fill="#0a0a0a" stroke="#0a0a0a" stroke-width="0.22" >IL-18</text>
<text x="474.30" y="331.79" font-size="6.6" text-anchor="start" font-weight="normal" fill="#0a0a0a" stroke="#0a0a0a" stroke-width="0.22" >IL-19</text>
<text x="474.30" y="338.00" font-size="6.6" text-anchor="start" font-weight="normal" fill="#0a0a0a" stroke="#0a0a0a" stroke-width="0.22" >IL-20</text>
<text x="213.60" y="352.10" font-size="6.5" text-anchor="middle" font-weight="normal" fill="#333" stroke="#333" stroke-width="0.22" >&#916; Ct (ABL - Cytokine)</text>
<defs><linearGradient id="lg" x1="0" x2="1" y1="0" y2="0"><stop offset="0" stop-color="#7eb844"/><stop offset="0.4" stop-color="#8fae40"/><stop offset="0.68" stop-color="#a88032"/><stop offset="0.88" stop-color="#c8401e"/><stop offset="1" stop-color="#d42c18"/></linearGradient></defs>
<rect x="177.80" y="355.00" width="71.40" height="2.00" fill="url(#lg)" />
<text x="176.80" y="365.00" font-size="6.1" text-anchor="middle" font-weight="normal" fill="#333" stroke="#333" stroke-width="0.22" >-10</text>
<text x="249.00" y="365.00" font-size="6.1" text-anchor="middle" font-weight="normal" fill="#333" stroke="#333" stroke-width="0.22" >+4</text>
<text x="7.70" y="391.90" font-size="11" text-anchor="start" font-weight="bold" fill="#000"  stroke="#000" stroke-width="0.25">C</text>
<text transform="translate(20.80,446.50) rotate(-90)" font-size="8.5" text-anchor="middle" fill="#141414" stroke="#141414" stroke-width="0.2"><tspan font-style="italic">CCL2</tspan> mRNA levels</text>
<text transform="translate(33.00,446.50) rotate(-90)" font-size="8.5" text-anchor="middle" fill="#141414" stroke="#141414" stroke-width="0.2">(% of <tspan font-style="italic">ABL</tspan>)</text>
<line x1="58.50" y1="397.30" x2="58.50" y2="494.85" stroke="#1a1a1a" stroke-width="1.35" />
<line x1="55.20" y1="400.00" x2="58.50" y2="400.00" stroke="#1a1a1a" stroke-width="1.5" />
<text x="51.60" y="402.60" font-size="7.75" text-anchor="end" font-weight="normal" fill="#141414" stroke="#141414" stroke-width="0.22" >500</text>
<line x1="55.20" y1="418.85" x2="58.50" y2="418.85" stroke="#1a1a1a" stroke-width="1.5" />
<text x="51.60" y="421.45" font-size="7.75" text-anchor="end" font-weight="normal" fill="#141414" stroke="#141414" stroke-width="0.22" >400</text>
<line x1="55.20" y1="437.70" x2="58.50" y2="437.70" stroke="#1a1a1a" stroke-width="1.5" />
<text x="51.60" y="440.30" font-size="7.75" text-anchor="end" font-weight="normal" fill="#141414" stroke="#141414" stroke-width="0.22" >300</text>
<line x1="55.20" y1="456.55" x2="58.50" y2="456.55" stroke="#1a1a1a" stroke-width="1.5" />
<text x="51.60" y="459.15" font-size="7.75" text-anchor="end" font-weight="normal" fill="#141414" stroke="#141414" stroke-width="0.22" >200</text>
<line x1="55.20" y1="475.40" x2="58.50" y2="475.40" stroke="#1a1a1a" stroke-width="1.5" />
<text x="51.60" y="478.00" font-size="7.75" text-anchor="end" font-weight="normal" fill="#141414" stroke="#141414" stroke-width="0.22" >100</text>
<line x1="55.20" y1="494.25" x2="58.50" y2="494.25" stroke="#1a1a1a" stroke-width="1.5" />
<text x="51.60" y="496.85" font-size="7.75" text-anchor="end" font-weight="normal" fill="#141414" stroke="#141414" stroke-width="0.22" >0</text>
<line x1="69.95" y1="490.40" x2="69.95" y2="491.70" stroke="#1a1a1a" stroke-width="1.45" />
<line x1="66.20" y1="490.40" x2="73.70" y2="490.40" stroke="#1a1a1a" stroke-width="1.45" />
<rect x="61.20" y="491.20" width="17.50" height="3.05" fill="#b0122e" />
<line x1="93.60" y1="491.40" x2="93.60" y2="492.90" stroke="#1a1a1a" stroke-width="1.45" />
<line x1="89.85" y1="491.40" x2="97.35" y2="491.40" stroke="#1a1a1a" stroke-width="1.45" />
<rect x="85.00" y="492.40" width="17.20" height="1.85" fill="#2a487a" />
<line x1="117.45" y1="465.90" x2="117.45" y2="467.30" stroke="#1a1a1a" stroke-width="1.45" />
<line x1="113.70" y1="465.90" x2="121.20" y2="465.90" stroke="#1a1a1a" stroke-width="1.45" />
<rect x="108.70" y="466.80" width="17.50" height="27.45" fill="#6aac3e" />
<line x1="140.75" y1="490.90" x2="140.75" y2="492.20" stroke="#1a1a1a" stroke-width="1.45" />
<line x1="137.00" y1="490.90" x2="144.50" y2="490.90" stroke="#1a1a1a" stroke-width="1.45" />
<rect x="132.00" y="491.70" width="17.50" height="2.55" fill="#b0122e" />
<line x1="164.38" y1="487.40" x2="164.38" y2="490.50" stroke="#1a1a1a" stroke-width="1.45" />
<line x1="160.62" y1="487.40" x2="168.12" y2="487.40" stroke="#1a1a1a" stroke-width="1.45" />
<rect x="155.75" y="490.00" width="17.25" height="4.25" fill="#2a487a" />
<line x1="188.25" y1="416.30" x2="188.25" y2="432.50" stroke="#1a1a1a" stroke-width="1.45" />
<line x1="184.50" y1="416.30" x2="192.00" y2="416.30" stroke="#1a1a1a" stroke-width="1.45" />
<rect x="179.50" y="432.00" width="17.50" height="62.25" fill="#6aac3e" />
<line x1="57.90" y1="494.25" x2="200.00" y2="494.25" stroke="#1a1a1a" stroke-width="1.45" />
<line x1="70.00" y1="494.25" x2="70.00" y2="497.25" stroke="#1a1a1a" stroke-width="1.3" />
<line x1="93.50" y1="494.25" x2="93.50" y2="497.25" stroke="#1a1a1a" stroke-width="1.3" />
<line x1="117.50" y1="494.25" x2="117.50" y2="497.25" stroke="#1a1a1a" stroke-width="1.3" />
<line x1="140.75" y1="494.25" x2="140.75" y2="497.25" stroke="#1a1a1a" stroke-width="1.3" />
<line x1="164.25" y1="494.25" x2="164.25" y2="497.25" stroke="#1a1a1a" stroke-width="1.3" />
<line x1="188.25" y1="494.25" x2="188.25" y2="497.25" stroke="#1a1a1a" stroke-width="1.3" />
<text x="70.00" y="507.00" font-size="8.1" text-anchor="middle" font-weight="normal" fill="#141414" stroke="#141414" stroke-width="0.22" >CO</text>
<text x="93.50" y="507.00" font-size="8.1" text-anchor="middle" font-weight="normal" fill="#141414" stroke="#141414" stroke-width="0.22" >KIT</text>
<text x="93.50" y="516.80" font-size="8.1" text-anchor="middle" font-weight="normal" fill="#141414" stroke="#141414" stroke-width="0.22" >WT</text>
<text x="117.50" y="507.00" font-size="8.1" text-anchor="middle" font-weight="normal" fill="#141414" stroke="#141414" stroke-width="0.22" >KIT</text>
<text x="117.50" y="516.80" font-size="8.1" text-anchor="middle" font-weight="normal" fill="#141414" stroke="#141414" stroke-width="0.22" >D816V</text>
<text x="140.75" y="507.00" font-size="8.1" text-anchor="middle" font-weight="normal" fill="#141414" stroke="#141414" stroke-width="0.22" >CO</text>
<text x="164.25" y="507.00" font-size="8.1" text-anchor="middle" font-weight="normal" fill="#141414" stroke="#141414" stroke-width="0.22" >KIT</text>
<text x="164.25" y="516.80" font-size="8.1" text-anchor="middle" font-weight="normal" fill="#141414" stroke="#141414" stroke-width="0.22" >WT</text>
<text x="188.25" y="507.00" font-size="8.1" text-anchor="middle" font-weight="normal" fill="#141414" stroke="#141414" stroke-width="0.22" >KIT</text>
<text x="188.25" y="516.80" font-size="8.1" text-anchor="middle" font-weight="normal" fill="#141414" stroke="#141414" stroke-width="0.22" >D816V</text>
<path d="M93.20 489.50V457.70H117.50V461.00" fill="none" stroke="#1a1a1a" stroke-width="1.35"/>
<text x="105.30" y="456.50" font-size="9.5" text-anchor="middle" font-weight="bold" fill="#141414" stroke="#141414" stroke-width="0.0" >***</text>
<path d="M164.25 482.50V408.80H188.25V412.50" fill="none" stroke="#1a1a1a" stroke-width="1.35"/>
<text x="176.20" y="407.30" font-size="9.5" text-anchor="middle" font-weight="bold" fill="#141414" stroke="#141414" stroke-width="0.0" >***</text>
<path d="M60.70 520.40V527.20H126.50V520.40" fill="none" stroke="#1a1a1a" stroke-width="1.35"/>
<path d="M132.00 520.40V527.20H197.50V520.40" fill="none" stroke="#1a1a1a" stroke-width="1.35"/>
<text x="96.00" y="537.80" font-size="8.1" text-anchor="middle" font-weight="normal" fill="#141414" stroke="#141414" stroke-width="0.22" >+ GM-CSF</text>
<text x="164.00" y="537.80" font-size="8.1" text-anchor="middle" font-weight="normal" fill="#141414" stroke="#141414" stroke-width="0.22" >- GM-CSF</text>
<text x="225.40" y="391.80" font-size="11" text-anchor="start" font-weight="bold" fill="#000"  stroke="#000" stroke-width="0.25">D</text>
<text transform="translate(239.2,447.2) rotate(-90)" font-size="8.85" text-anchor="middle" fill="#141414" stroke="#141414" stroke-width="0.2">CCL2 (pg/ml)</text>
<line x1="264.50" y1="397.00" x2="264.50" y2="494.85" stroke="#1a1a1a" stroke-width="1.35" />
<line x1="261.20" y1="400.00" x2="264.50" y2="400.00" stroke="#1a1a1a" stroke-width="1.5" />
<text x="257.80" y="402.60" font-size="7.75" text-anchor="end" font-weight="normal" fill="#141414" stroke="#141414" stroke-width="0.22" >400</text>
<line x1="261.20" y1="423.56" x2="264.50" y2="423.56" stroke="#1a1a1a" stroke-width="1.5" />
<text x="257.80" y="426.16" font-size="7.75" text-anchor="end" font-weight="normal" fill="#141414" stroke="#141414" stroke-width="0.22" >300</text>
<line x1="261.20" y1="447.12" x2="264.50" y2="447.12" stroke="#1a1a1a" stroke-width="1.5" />
<text x="257.80" y="449.72" font-size="7.75" text-anchor="end" font-weight="normal" fill="#141414" stroke="#141414" stroke-width="0.22" >200</text>
<line x1="261.20" y1="470.68" x2="264.50" y2="470.68" stroke="#1a1a1a" stroke-width="1.5" />
<text x="257.80" y="473.28" font-size="7.75" text-anchor="end" font-weight="normal" fill="#141414" stroke="#141414" stroke-width="0.22" >100</text>
<line x1="261.20" y1="494.24" x2="264.50" y2="494.24" stroke="#1a1a1a" stroke-width="1.5" />
<text x="257.80" y="496.84" font-size="7.75" text-anchor="end" font-weight="normal" fill="#141414" stroke="#141414" stroke-width="0.22" >0</text>
<line x1="275.90" y1="464.30" x2="275.90" y2="465.50" stroke="#1a1a1a" stroke-width="1.45" />
<line x1="272.15" y1="464.30" x2="279.65" y2="464.30" stroke="#1a1a1a" stroke-width="1.45" />
<rect x="267.40" y="465.00" width="17.00" height="29.25" fill="#b0122e" />
<line x1="299.20" y1="465.50" x2="299.20" y2="471.20" stroke="#1a1a1a" stroke-width="1.45" />
<line x1="295.45" y1="465.50" x2="302.95" y2="465.50" stroke="#1a1a1a" stroke-width="1.45" />
<rect x="290.80" y="470.70" width="16.80" height="23.55" fill="#2a487a" />
<line x1="322.88" y1="410.00" x2="322.88" y2="417.50" stroke="#1a1a1a" stroke-width="1.45" />
<line x1="319.12" y1="410.00" x2="326.62" y2="410.00" stroke="#1a1a1a" stroke-width="1.45" />
<rect x="314.50" y="417.00" width="16.75" height="77.25" fill="#6aac3e" />
<line x1="345.88" y1="473.30" x2="345.88" y2="479.50" stroke="#1a1a1a" stroke-width="1.45" />
<line x1="342.12" y1="473.30" x2="349.62" y2="473.30" stroke="#1a1a1a" stroke-width="1.45" />
<rect x="337.50" y="479.00" width="16.75" height="15.25" fill="#b0122e" />
<line x1="369.38" y1="484.00" x2="369.38" y2="485.50" stroke="#1a1a1a" stroke-width="1.45" />
<line x1="365.62" y1="484.00" x2="373.12" y2="484.00" stroke="#1a1a1a" stroke-width="1.45" />
<rect x="360.75" y="485.00" width="17.25" height="9.25" fill="#2a487a" />
<line x1="392.88" y1="430.00" x2="392.88" y2="443.50" stroke="#1a1a1a" stroke-width="1.45" />
<line x1="389.12" y1="430.00" x2="396.62" y2="430.00" stroke="#1a1a1a" stroke-width="1.45" />
<rect x="384.50" y="443.00" width="16.75" height="51.25" fill="#6aac3e" />
<line x1="263.90" y1="494.25" x2="405.00" y2="494.25" stroke="#1a1a1a" stroke-width="1.45" />
<line x1="276.25" y1="494.25" x2="276.25" y2="497.25" stroke="#1a1a1a" stroke-width="1.3" />
<line x1="299.50" y1="494.25" x2="299.50" y2="497.25" stroke="#1a1a1a" stroke-width="1.3" />
<line x1="323.00" y1="494.25" x2="323.00" y2="497.25" stroke="#1a1a1a" stroke-width="1.3" />
<line x1="345.75" y1="494.25" x2="345.75" y2="497.25" stroke="#1a1a1a" stroke-width="1.3" />
<line x1="369.25" y1="494.25" x2="369.25" y2="497.25" stroke="#1a1a1a" stroke-width="1.3" />
<line x1="392.50" y1="494.25" x2="392.50" y2="497.25" stroke="#1a1a1a" stroke-width="1.3" />
<text x="276.25" y="507.00" font-size="8.1" text-anchor="middle" font-weight="normal" fill="#141414" stroke="#141414" stroke-width="0.22" >CO</text>
<text x="299.50" y="507.00" font-size="8.1" text-anchor="middle" font-weight="normal" fill="#141414" stroke="#141414" stroke-width="0.22" >KIT</text>
<text x="299.50" y="516.80" font-size="8.1" text-anchor="middle" font-weight="normal" fill="#141414" stroke="#141414" stroke-width="0.22" >WT</text>
<text x="323.00" y="507.00" font-size="8.1" text-anchor="middle" font-weight="normal" fill="#141414" stroke="#141414" stroke-width="0.22" >KIT</text>
<text x="323.00" y="516.80" font-size="8.1" text-anchor="middle" font-weight="normal" fill="#141414" stroke="#141414" stroke-width="0.22" >D816V</text>
<text x="345.75" y="507.00" font-size="8.1" text-anchor="middle" font-weight="normal" fill="#141414" stroke="#141414" stroke-width="0.22" >CO</text>
<text x="369.25" y="507.00" font-size="8.1" text-anchor="middle" font-weight="normal" fill="#141414" stroke="#141414" stroke-width="0.22" >KIT</text>
<text x="369.25" y="516.80" font-size="8.1" text-anchor="middle" font-weight="normal" fill="#141414" stroke="#141414" stroke-width="0.22" >WT</text>
<text x="392.50" y="507.00" font-size="8.1" text-anchor="middle" font-weight="normal" fill="#141414" stroke="#141414" stroke-width="0.22" >KIT</text>
<text x="392.50" y="516.80" font-size="8.1" text-anchor="middle" font-weight="normal" fill="#141414" stroke="#141414" stroke-width="0.22" >D816V</text>
<path d="M299.50 459.50V403.00H323.00V408.00" fill="none" stroke="#1a1a1a" stroke-width="1.35"/>
<text x="311.30" y="401.30" font-size="9.5" text-anchor="middle" font-weight="bold" fill="#141414" stroke="#141414" stroke-width="0.0" >***</text>
<path d="M368.80 480.00V423.00H392.50V426.30" fill="none" stroke="#1a1a1a" stroke-width="1.35"/>
<text x="381.20" y="421.70" font-size="9.5" text-anchor="middle" font-weight="bold" fill="#141414" stroke="#141414" stroke-width="0.0" >***</text>
<path d="M267.00 520.40V527.20H331.50V520.40" fill="none" stroke="#1a1a1a" stroke-width="1.35"/>
<path d="M337.00 520.40V527.20H401.40V520.40" fill="none" stroke="#1a1a1a" stroke-width="1.35"/>
<text x="300.00" y="537.80" font-size="8.1" text-anchor="middle" font-weight="normal" fill="#141414" stroke="#141414" stroke-width="0.22" >+ GM-CSF</text>
<text x="369.30" y="537.80" font-size="8.1" text-anchor="middle" font-weight="normal" fill="#141414" stroke="#141414" stroke-width="0.22" >- GM-CSF</text>
<text x="7.70" y="565.80" font-size="11" text-anchor="start" font-weight="bold" fill="#000"  stroke="#000" stroke-width="0.25">E</text>
<text transform="translate(16.50,620.00) rotate(-90)" font-size="8.45" text-anchor="middle" fill="#141414" stroke="#141414" stroke-width="0.2"><tspan font-style="italic">CCL2</tspan> mRNA levels</text>
<text transform="translate(28.10,620.00) rotate(-90)" font-size="8.45" text-anchor="middle" fill="#141414" stroke="#141414" stroke-width="0.2">(% of <tspan font-style="italic">ABL</tspan>)</text>
<line x1="58.80" y1="570.00" x2="58.80" y2="667.60" stroke="#1a1a1a" stroke-width="1.35" />
<line x1="55.50" y1="572.80" x2="58.80" y2="572.80" stroke="#1a1a1a" stroke-width="1.5" />
<text x="52.20" y="575.40" font-size="7.8" text-anchor="end" font-weight="normal" fill="#141414" stroke="#141414" stroke-width="0.22" >5000</text>
<line x1="55.50" y1="591.64" x2="58.80" y2="591.64" stroke="#1a1a1a" stroke-width="1.5" />
<text x="52.20" y="594.24" font-size="7.8" text-anchor="end" font-weight="normal" fill="#141414" stroke="#141414" stroke-width="0.22" >4000</text>
<line x1="55.50" y1="610.48" x2="58.80" y2="610.48" stroke="#1a1a1a" stroke-width="1.5" />
<text x="52.20" y="613.08" font-size="7.8" text-anchor="end" font-weight="normal" fill="#141414" stroke="#141414" stroke-width="0.22" >3000</text>
<line x1="55.50" y1="629.32" x2="58.80" y2="629.32" stroke="#1a1a1a" stroke-width="1.5" />
<text x="52.20" y="631.92" font-size="7.8" text-anchor="end" font-weight="normal" fill="#141414" stroke="#141414" stroke-width="0.22" >2000</text>
<line x1="55.50" y1="648.16" x2="58.80" y2="648.16" stroke="#1a1a1a" stroke-width="1.5" />
<text x="52.20" y="650.76" font-size="7.8" text-anchor="end" font-weight="normal" fill="#141414" stroke="#141414" stroke-width="0.22" >1000</text>
<line x1="55.50" y1="667.00" x2="58.80" y2="667.00" stroke="#1a1a1a" stroke-width="1.5" />
<text x="52.20" y="669.60" font-size="7.8" text-anchor="end" font-weight="normal" fill="#141414" stroke="#141414" stroke-width="0.22" >0</text>
<line x1="71.60" y1="661.80" x2="71.60" y2="664.50" stroke="#1a1a1a" stroke-width="1.45" />
<line x1="67.60" y1="661.80" x2="75.60" y2="661.80" stroke="#1a1a1a" stroke-width="1.45" />
<rect x="62.40" y="664.00" width="18.40" height="3.00" fill="#b0122e" />
<line x1="98.30" y1="658.40" x2="98.30" y2="660.70" stroke="#1a1a1a" stroke-width="1.45" />
<line x1="94.30" y1="658.40" x2="102.30" y2="658.40" stroke="#1a1a1a" stroke-width="1.45" />
<rect x="89.00" y="660.20" width="18.60" height="6.80" fill="#2a487a" />
<line x1="125.00" y1="633.50" x2="125.00" y2="643.90" stroke="#1a1a1a" stroke-width="1.45" />
<line x1="121.00" y1="633.50" x2="129.00" y2="633.50" stroke="#1a1a1a" stroke-width="1.45" />
<rect x="115.60" y="643.40" width="18.80" height="23.60" fill="#6aac3e" />
<line x1="151.70" y1="593.20" x2="151.70" y2="599.00" stroke="#1a1a1a" stroke-width="1.45" />
<line x1="147.70" y1="593.20" x2="155.70" y2="593.20" stroke="#1a1a1a" stroke-width="1.45" />
<rect x="142.20" y="598.50" width="19.00" height="68.50" fill="#52246c" />
<line x1="58.20" y1="667.00" x2="167.00" y2="667.00" stroke="#1a1a1a" stroke-width="1.45" />
<line x1="71.60" y1="667.00" x2="71.60" y2="670.00" stroke="#1a1a1a" stroke-width="1.3" />
<line x1="98.40" y1="667.00" x2="98.40" y2="670.00" stroke="#1a1a1a" stroke-width="1.3" />
<line x1="125.20" y1="667.00" x2="125.20" y2="670.00" stroke="#1a1a1a" stroke-width="1.3" />
<line x1="151.80" y1="667.00" x2="151.80" y2="670.00" stroke="#1a1a1a" stroke-width="1.3" />
<text x="71.60" y="680.60" font-size="8.0" text-anchor="middle" font-weight="normal" fill="#141414" stroke="#141414" stroke-width="0.22" >d0</text>
<text x="98.40" y="680.60" font-size="8.0" text-anchor="middle" font-weight="normal" fill="#141414" stroke="#141414" stroke-width="0.22" >d10</text>
<text x="125.20" y="680.60" font-size="8.0" text-anchor="middle" font-weight="normal" fill="#141414" stroke="#141414" stroke-width="0.22" >d40</text>
<text x="151.80" y="680.60" font-size="8.0" text-anchor="middle" font-weight="normal" fill="#141414" stroke="#141414" stroke-width="0.22" >HMC-1</text>
<path d="M71.60 658.50V613.50H125.40V624.00" fill="none" stroke="#1a1a1a" stroke-width="1.35"/>
<text x="98.40" y="611.90" font-size="9.5" text-anchor="middle" font-weight="bold" fill="#141414" stroke="#141414" stroke-width="0.0" >**</text>
<path d="M98.40 655.00V623.20H125.40V624.00" fill="none" stroke="#1a1a1a" stroke-width="1.35"/>
<text x="112.00" y="621.50" font-size="9.5" text-anchor="middle" font-weight="bold" fill="#141414" stroke="#141414" stroke-width="0.0" >**</text>
<line x1="62.70" y1="689.60" x2="134.30" y2="689.60" stroke="#1a1a1a" stroke-width="1.5" />
<line x1="62.70" y1="686.00" x2="62.70" y2="693.20" stroke="#1a1a1a" stroke-width="1.5" />
<line x1="134.30" y1="686.00" x2="134.30" y2="693.20" stroke="#1a1a1a" stroke-width="1.5" />
<text x="98.00" y="705.20" font-size="8.0" text-anchor="middle" font-weight="normal" fill="#141414" stroke="#141414" stroke-width="0.22" >cord blood derived</text>
<text x="98.00" y="715.00" font-size="8.0" text-anchor="middle" font-weight="normal" fill="#141414" stroke="#141414" stroke-width="0.22" >mast cells</text>
<text x="176.40" y="565.40" font-size="11" text-anchor="start" font-weight="bold" fill="#000"  stroke="#000" stroke-width="0.25">F</text>
<text transform="translate(186.50,620.00) rotate(-90)" font-size="8.45" text-anchor="middle" fill="#141414" stroke="#141414" stroke-width="0.2"><tspan font-style="italic">CCL2</tspan> mRNA levels</text>
<text transform="translate(198.10,620.00) rotate(-90)" font-size="8.45" text-anchor="middle" fill="#141414" stroke="#141414" stroke-width="0.2">(% of <tspan font-style="italic">ABL</tspan>)</text>
<line x1="229.50" y1="570.00" x2="229.50" y2="667.60" stroke="#1a1a1a" stroke-width="1.35" />
<line x1="226.20" y1="572.80" x2="229.50" y2="572.80" stroke="#1a1a1a" stroke-width="1.5" />
<text x="222.20" y="575.40" font-size="7.8" text-anchor="end" font-weight="normal" fill="#141414" stroke="#141414" stroke-width="0.22" >5000</text>
<line x1="226.20" y1="591.64" x2="229.50" y2="591.64" stroke="#1a1a1a" stroke-width="1.5" />
<text x="222.20" y="594.24" font-size="7.8" text-anchor="end" font-weight="normal" fill="#141414" stroke="#141414" stroke-width="0.22" >4000</text>
<line x1="226.20" y1="610.48" x2="229.50" y2="610.48" stroke="#1a1a1a" stroke-width="1.5" />
<text x="222.20" y="613.08" font-size="7.8" text-anchor="end" font-weight="normal" fill="#141414" stroke="#141414" stroke-width="0.22" >3000</text>
<line x1="226.20" y1="629.32" x2="229.50" y2="629.32" stroke="#1a1a1a" stroke-width="1.5" />
<text x="222.20" y="631.92" font-size="7.8" text-anchor="end" font-weight="normal" fill="#141414" stroke="#141414" stroke-width="0.22" >2000</text>
<line x1="226.20" y1="648.16" x2="229.50" y2="648.16" stroke="#1a1a1a" stroke-width="1.5" />
<text x="222.20" y="650.76" font-size="7.8" text-anchor="end" font-weight="normal" fill="#141414" stroke="#141414" stroke-width="0.22" >1000</text>
<line x1="226.20" y1="667.00" x2="229.50" y2="667.00" stroke="#1a1a1a" stroke-width="1.5" />
<text x="222.20" y="669.60" font-size="7.8" text-anchor="end" font-weight="normal" fill="#141414" stroke="#141414" stroke-width="0.22" >0</text>
<line x1="243.55" y1="580.00" x2="243.55" y2="587.90" stroke="#1a1a1a" stroke-width="1.45" />
<line x1="239.05" y1="580.00" x2="248.05" y2="580.00" stroke="#1a1a1a" stroke-width="1.45" />
<rect x="233.40" y="587.40" width="20.30" height="79.60" fill="#b0122e" />
<line x1="271.35" y1="596.00" x2="271.35" y2="609.30" stroke="#1a1a1a" stroke-width="1.45" />
<line x1="266.85" y1="596.00" x2="275.85" y2="596.00" stroke="#1a1a1a" stroke-width="1.45" />
<rect x="261.00" y="608.80" width="20.70" height="58.20" fill="#2a487a" />
<line x1="299.35" y1="588.00" x2="299.35" y2="608.50" stroke="#1a1a1a" stroke-width="1.45" />
<line x1="294.85" y1="588.00" x2="303.85" y2="588.00" stroke="#1a1a1a" stroke-width="1.45" />
<rect x="289.20" y="608.00" width="20.30" height="59.00" fill="#6aac3e" />
<line x1="327.35" y1="614.00" x2="327.35" y2="630.80" stroke="#1a1a1a" stroke-width="1.45" />
<line x1="322.85" y1="614.00" x2="331.85" y2="614.00" stroke="#1a1a1a" stroke-width="1.45" />
<rect x="317.20" y="630.30" width="20.30" height="36.70" fill="#52246c" />
<line x1="355.10" y1="641.00" x2="355.10" y2="646.70" stroke="#1a1a1a" stroke-width="1.45" />
<line x1="350.60" y1="641.00" x2="359.60" y2="641.00" stroke="#1a1a1a" stroke-width="1.45" />
<rect x="344.70" y="646.20" width="20.80" height="20.80" fill="#e28c20" />
<line x1="228.90" y1="667.00" x2="368.60" y2="667.00" stroke="#1a1a1a" stroke-width="1.45" />
<line x1="243.50" y1="667.00" x2="243.50" y2="670.00" stroke="#1a1a1a" stroke-width="1.3" />
<line x1="271.20" y1="667.00" x2="271.20" y2="670.00" stroke="#1a1a1a" stroke-width="1.3" />
<line x1="299.20" y1="667.00" x2="299.20" y2="670.00" stroke="#1a1a1a" stroke-width="1.3" />
<line x1="327.00" y1="667.00" x2="327.00" y2="670.00" stroke="#1a1a1a" stroke-width="1.3" />
<line x1="355.00" y1="667.00" x2="355.00" y2="670.00" stroke="#1a1a1a" stroke-width="1.3" />
<text x="243.50" y="680.60" font-size="8.0" text-anchor="middle" font-weight="normal" fill="#141414" stroke="#141414" stroke-width="0.22" >CO</text>
<text x="271.20" y="680.60" font-size="8.0" text-anchor="middle" font-weight="normal" fill="#141414" stroke="#141414" stroke-width="0.22" >30</text>
<text x="299.20" y="680.60" font-size="8.0" text-anchor="middle" font-weight="normal" fill="#141414" stroke="#141414" stroke-width="0.22" >100</text>
<text x="327.00" y="680.60" font-size="8.0" text-anchor="middle" font-weight="normal" fill="#141414" stroke="#141414" stroke-width="0.22" >300</text>
<text x="355.00" y="680.60" font-size="8.0" text-anchor="middle" font-weight="normal" fill="#141414" stroke="#141414" stroke-width="0.22" >1000</text>
<text x="327.30" y="612.30" font-size="9.5" text-anchor="middle" font-weight="bold" fill="#141414" stroke="#141414" stroke-width="0.0" >**</text>
<text x="354.80" y="639.30" font-size="9.5" text-anchor="middle" font-weight="bold" fill="#141414" stroke="#141414" stroke-width="0.0" >***</text>
<line x1="262.60" y1="689.50" x2="365.80" y2="689.50" stroke="#1a1a1a" stroke-width="1.5" />
<line x1="262.60" y1="686.00" x2="262.60" y2="693.20" stroke="#1a1a1a" stroke-width="1.5" />
<line x1="365.80" y1="686.00" x2="365.80" y2="693.20" stroke="#1a1a1a" stroke-width="1.5" />
<text x="313.80" y="704.60" font-size="8.2" text-anchor="middle" font-weight="normal" fill="#141414" stroke="#141414" stroke-width="0.22" >Midostaurin (nM)</text>
<text x="380.90" y="565.80" font-size="11" text-anchor="start" font-weight="bold" fill="#000"  stroke="#000" stroke-width="0.25">G</text>
<text transform="translate(393.90,619.80) rotate(-90)" font-size="8.55" text-anchor="middle" fill="#141414" stroke="#141414" stroke-width="0.2"><tspan font-style="italic">CCL2</tspan> mRNA levels</text>
<text transform="translate(405.50,619.80) rotate(-90)" font-size="8.55" text-anchor="middle" fill="#141414" stroke="#141414" stroke-width="0.2">(% of <tspan font-style="italic">ABL</tspan>)</text>
<line x1="440.40" y1="570.00" x2="440.40" y2="667.60" stroke="#1a1a1a" stroke-width="1.35" />
<line x1="437.10" y1="572.80" x2="440.40" y2="572.80" stroke="#1a1a1a" stroke-width="1.5" />
<text x="434.40" y="575.40" font-size="8.0" text-anchor="end" font-weight="normal" fill="#141414" stroke="#141414" stroke-width="0.22" >20000</text>
<line x1="437.10" y1="596.35" x2="440.40" y2="596.35" stroke="#1a1a1a" stroke-width="1.5" />
<text x="434.40" y="598.95" font-size="8.0" text-anchor="end" font-weight="normal" fill="#141414" stroke="#141414" stroke-width="0.22" >15000</text>
<line x1="437.10" y1="619.90" x2="440.40" y2="619.90" stroke="#1a1a1a" stroke-width="1.5" />
<text x="434.40" y="622.50" font-size="8.0" text-anchor="end" font-weight="normal" fill="#141414" stroke="#141414" stroke-width="0.22" >10000</text>
<line x1="437.10" y1="643.45" x2="440.40" y2="643.45" stroke="#1a1a1a" stroke-width="1.5" />
<text x="434.40" y="646.05" font-size="8.0" text-anchor="end" font-weight="normal" fill="#141414" stroke="#141414" stroke-width="0.22" >5000</text>
<line x1="437.10" y1="667.00" x2="440.40" y2="667.00" stroke="#1a1a1a" stroke-width="1.5" />
<text x="434.40" y="669.60" font-size="8.0" text-anchor="end" font-weight="normal" fill="#141414" stroke="#141414" stroke-width="0.22" >0</text>
<line x1="459.00" y1="574.20" x2="459.00" y2="589.30" stroke="#1a1a1a" stroke-width="1.45" />
<line x1="452.75" y1="574.20" x2="465.25" y2="574.20" stroke="#1a1a1a" stroke-width="1.45" />
<rect x="446.80" y="588.80" width="24.40" height="78.20" fill="#2a487a" />
<line x1="494.80" y1="637.30" x2="494.80" y2="644.30" stroke="#1a1a1a" stroke-width="1.45" />
<line x1="488.55" y1="637.30" x2="501.05" y2="637.30" stroke="#1a1a1a" stroke-width="1.45" />
<rect x="482.20" y="643.80" width="25.20" height="23.20" fill="#6aac3e" />
<line x1="439.80" y1="667.00" x2="510.60" y2="667.00" stroke="#1a1a1a" stroke-width="1.45" />
<line x1="458.70" y1="667.00" x2="458.70" y2="670.00" stroke="#1a1a1a" stroke-width="1.3" />
<line x1="494.80" y1="667.00" x2="494.80" y2="670.00" stroke="#1a1a1a" stroke-width="1.3" />
<text x="458.70" y="680.60" font-size="8.0" text-anchor="middle" font-weight="normal" fill="#141414" stroke="#141414" stroke-width="0.22" >NTC</text>
<text x="494.80" y="680.60" font-size="8.0" text-anchor="middle" font-weight="normal" fill="#141414" stroke="#141414" stroke-width="0.22" >KIT</text>
<text x="494.80" y="689.60" font-size="8.0" text-anchor="middle" font-weight="normal" fill="#141414" stroke="#141414" stroke-width="0.22" >RNAi</text>
<text x="494.80" y="636.00" font-size="9.5" text-anchor="middle" font-weight="bold" fill="#141414" stroke="#141414" stroke-width="0.0" >***</text>
<rect x="0.6" y="0.5" width="518.9" height="722.7" fill="none" stroke="#000" stroke-width="1.3"/>
<rect x="0.00" y="0.00" width="1.70" height="724.00" fill="#000" />
<rect x="0.00" y="0.00" width="520.00" height="1.40" fill="#000" />
<rect x="0.00" y="722.40" width="520.00" height="1.60" fill="#000" />
</svg>
</body></html>
